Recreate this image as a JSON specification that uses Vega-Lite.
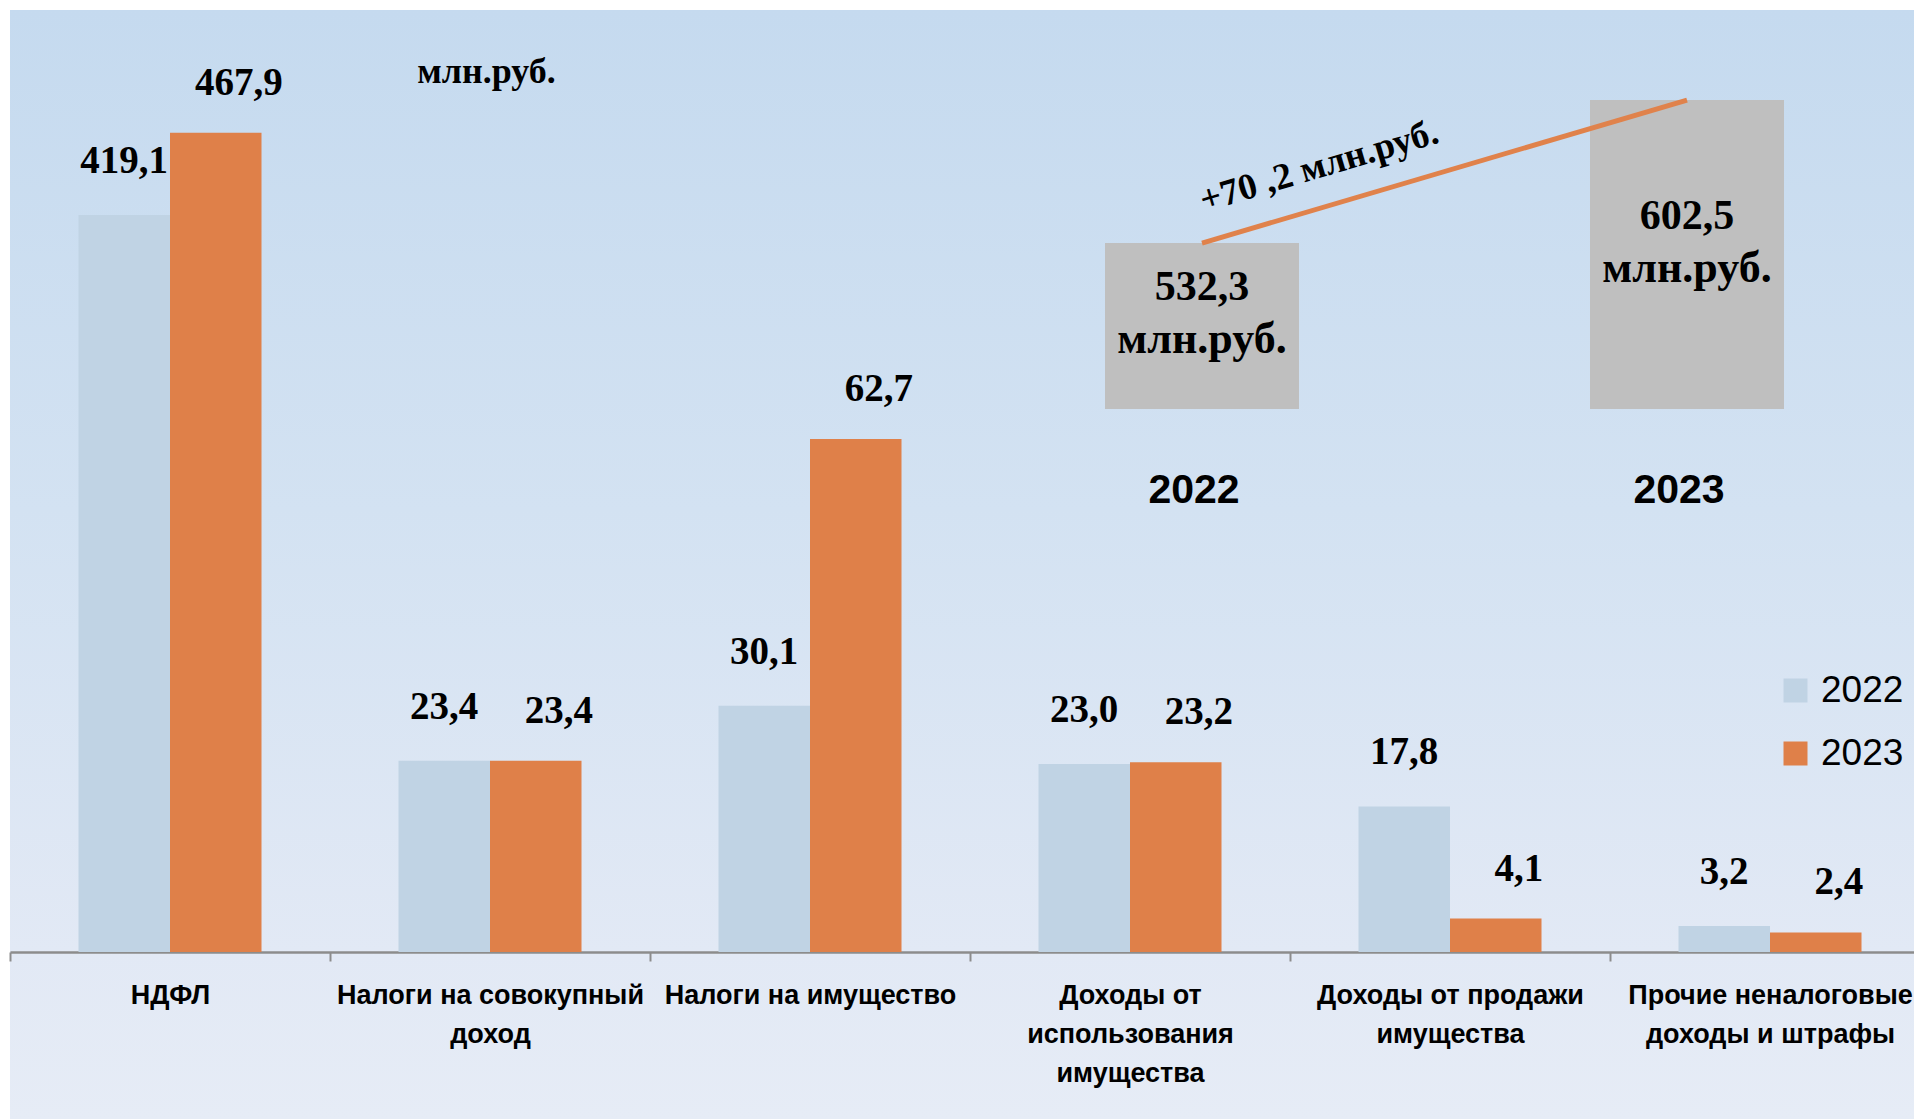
{
  "$schema": "https://vega.github.io/schema/vega-lite/v6.json",
  "width": 1904,
  "height": 1109,
  "autosize": {"type": "none"},
  "padding": {"left": 10, "top": 10, "right": 0, "bottom": 0},
  "background": "white",
  "view": {
    "stroke": null,
    "fill": {"gradient": "linear", "x1": 0, "y1": 0, "x2": 0, "y2": 1,
      "stops": [
        {"offset": 0, "color": "#c5daef"},
        {"offset": 0.45, "color": "#d3e2f2"},
        {"offset": 0.85, "color": "#e2e9f5"},
        {"offset": 1, "color": "#e6ecf6"}
      ]}
  },
  "config": {
    "locale": {"number": {"decimal": ",", "thousands": " ", "grouping": [3], "currency": ["", ""]}},
    "view": {"stroke": null}
  },
  "datasets": {
    "main": [
      {"category": "НДФЛ", "year": "2022", "value": 419.1},
      {"category": "НДФЛ", "year": "2023", "value": 467.9},
      {"category": "Налоги на совокупный доход", "year": "2022", "value": 23.4},
      {"category": "Налоги на совокупный доход", "year": "2023", "value": 23.4},
      {"category": "Налоги на имущество", "year": "2022", "value": 30.1},
      {"category": "Налоги на имущество", "year": "2023", "value": 62.7},
      {"category": "Доходы от использования имущества", "year": "2022", "value": 23.0},
      {"category": "Доходы от использования имущества", "year": "2023", "value": 23.2},
      {"category": "Доходы от продажи имущества", "year": "2022", "value": 17.8},
      {"category": "Доходы от продажи имущества", "year": "2023", "value": 4.1},
      {"category": "Прочие неналоговые доходы и штрафы", "year": "2022", "value": 3.2},
      {"category": "Прочие неналоговые доходы и штрафы", "year": "2023", "value": 2.4}
    ],
    "totals": [
      {"year": "2022", "total": 532.3, "unit": "млн.руб.", "change": "+70 ,2 млн.руб."},
      {"year": "2023", "total": 602.5, "unit": "млн.руб."}
    ]
  },
  "layer": [
    {
      "data": {"name": "main"},
      "encoding": {
        "x": {
          "field": "category", "type": "nominal", "sort": null,
          "scale": {"type": "band", "range": [0, 1920], "paddingInner": 0, "paddingOuter": 0},
          "axis": {
            "orient": "bottom", "offset": -167, "title": null,
            "domainColor": "#8c8c8c", "domainWidth": 2.5,
            "ticks": true, "tickBand": "extent", "tickColor": "#8c8c8c", "tickWidth": 2, "tickSize": 9,
            "labelAngle": 0, "labelFont": "Liberation Sans", "labelFontWeight": "bold",
            "labelFontSize": 27, "labelColor": "#000000", "labelPadding": 21,
            "labelLineHeight": 39, "labelLimit": 0, "labelOverlap": false, "grid": false,
            "labelExpr": "datum.label == 'Налоги на совокупный доход' ? ['Налоги на совокупный', 'доход'] : datum.label == 'Доходы от использования имущества' ? ['Доходы от', 'использования', 'имущества'] : datum.label == 'Доходы от продажи имущества' ? ['Доходы от продажи', 'имущества'] : datum.label == 'Прочие неналоговые доходы и штрафы' ? ['Прочие неналоговые', 'доходы и штрафы'] : datum.label"
          }
        },
        "xOffset": {"field": "year", "type": "nominal", "scale": {"type": "band", "paddingInner": 0, "paddingOuter": 0.7486}},
        "y": {
          "field": "value", "type": "quantitative",
          "scale": {"domain": [-20.4, 65, 419.1, 500], "range": [1109, 410.3, 205, 68.6], "nice": false, "zero": false},
          "axis": {
            "orient": "left", "domain": false, "ticks": false, "labels": false, "grid": false,
            "title": "млн.руб.", "titleAngle": 0, "titleX": 476, "titleY": 61,
            "titleAlign": "center", "titleBaseline": "middle",
            "titleFont": "Liberation Serif", "titleFontWeight": "bold", "titleFontSize": 36, "titleColor": "#000000"
          }
        }
      },
      "layer": [
        {
          "mark": {"type": "bar"},
          "encoding": {
            "color": {
              "field": "year", "type": "nominal",
              "scale": {"domain": ["2022", "2023"], "range": ["#c0d3e4", "#df8049"]},
              "legend": {
                "orient": "none", "legendX": 1767, "legendY": 662, "title": null,
                "symbolType": "square", "symbolSize": 576, "symbolStrokeWidth": 0,
                "labelFont": "Liberation Sans", "labelFontSize": 37, "labelColor": "#000000",
                "labelOffset": 7, "rowPadding": 25, "padding": 0
              }
            }
          }
        },
        {
          "transform": [{"filter": {"field": "year", "equal": "2022"}}],
          "mark": {"type": "text", "font": "Liberation Serif", "fontWeight": "bold", "fontSize": 39,
            "color": "#000000", "align": "center", "baseline": "middle", "dx": 0, "dy": -54},
          "encoding": {"text": {"field": "value", "type": "quantitative", "format": ".1f"}}
        },
        {
          "transform": [{"filter": {"field": "year", "equal": "2023"}}],
          "mark": {"type": "text", "font": "Liberation Serif", "fontWeight": "bold", "fontSize": 39,
            "color": "#000000", "align": "center", "baseline": "middle", "dx": 23, "dy": -50},
          "encoding": {"text": {"field": "value", "type": "quantitative", "format": ".1f"}}
        }
      ]
    },
    {
      "data": {"name": "totals"},
      "encoding": {
        "x": {
          "field": "year", "type": "nominal",
          "scale": {"type": "band", "range": [1095, 1774], "paddingInner": 0.6, "paddingOuter": 0},
          "axis": {
            "orient": "bottom", "offset": -710, "title": null, "domain": false, "ticks": false, "grid": false,
            "labelAngle": 0, "labelFont": "Liberation Sans", "labelFontWeight": "bold", "labelFontSize": 41,
            "labelColor": "#000000", "labelPadding": 61, "labelOffset": -8
          }
        },
        "y": {
          "field": "total", "type": "quantitative",
          "scale": {"domain": [102.3, 646.7], "nice": false, "zero": false},
          "axis": null
        }
      },
      "layer": [
        {
          "mark": {"type": "bar", "color": "#bfbfbf"},
          "encoding": {"y2": {"datum": 450.8}}
        },
        {
          "mark": {"type": "line", "color": "#e0824b", "strokeWidth": 5}
        },
        {
          "transform": [{"filter": "isValid(datum.change)"}],
          "mark": {"type": "text", "font": "Liberation Serif", "fontWeight": "bold", "fontSize": 37,
            "color": "#000000", "align": "center", "baseline": "middle", "angle": -16.5, "dx": 134, "dy": -40},
          "encoding": {"text": {"field": "change", "type": "nominal"}}
        }
      ]
    },
    {
      "data": {"name": "totals"},
      "encoding": {
        "x": {
          "field": "year", "type": "nominal",
          "scale": {"type": "band", "range": [1095, 1774], "paddingInner": 0.6, "paddingOuter": 0},
          "axis": null
        },
        "y": {
          "field": "total", "type": "quantitative",
          "scale": {"domain": [-246.3, 842.6], "nice": false, "zero": false},
          "axis": null
        }
      },
      "layer": [
        {
          "mark": {"type": "text", "font": "Liberation Serif", "fontWeight": "bold", "fontSize": 42,
            "color": "#000000", "align": "center", "baseline": "alphabetic", "dy": -26},
          "encoding": {"text": {"field": "total", "type": "quantitative", "format": ".1f"}}
        },
        {
          "mark": {"type": "text", "font": "Liberation Serif", "fontWeight": "bold", "fontSize": 44,
            "color": "#000000", "align": "center", "baseline": "alphabetic", "dy": 27},
          "encoding": {"text": {"field": "unit", "type": "nominal"}}
        }
      ]
    }
  ],
  "resolve": {"scale": {"x": "independent", "y": "independent", "color": "independent"}}
}
